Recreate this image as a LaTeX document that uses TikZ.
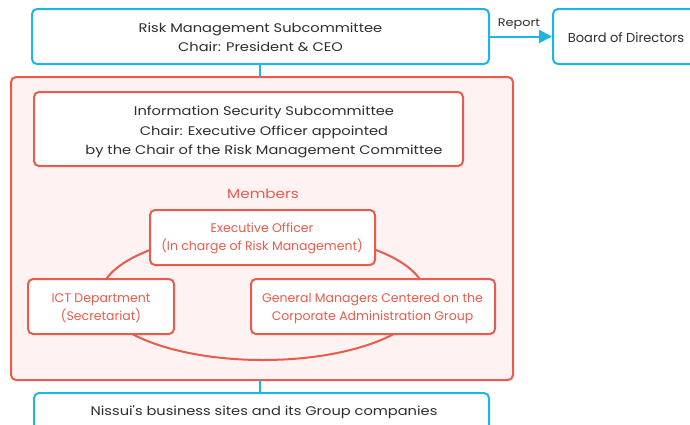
\documentclass[tikz,border=0pt]{standalone}
\usepackage{fontspec}
\setmainfont{Poppins}
\newfontfamily\widefont[FakeStretch=1.17]{Poppins}
\usetikzlibrary{arrows.meta}
\definecolor{cy}{HTML}{1DB6E3}
\definecolor{rd}{HTML}{E95B4C}
\definecolor{pk}{HTML}{FEF3F2}
\definecolor{tx}{HTML}{2E2E2E}
\begin{document}
\begin{tikzpicture}[x=1pt,y=-1pt,
  cybox/.style={draw=cy,line width=2pt,rounded corners=5pt,fill=white,inner sep=0pt},
  rdbox/.style={draw=rd,line width=2pt,rounded corners=5pt,fill=white,inner sep=0pt},
  dtext/.style={text=tx,font=\widefont\fontsize{12.5}{19}\selectfont,align=center,inner sep=0pt},
  ntext/.style={text=tx,font=\fontsize{13}{19}\selectfont,align=center,inner sep=0pt},
  rtext/.style={text=rd,font=\fontsize{12.5}{18}\selectfont,align=center,inner sep=0pt},
  cyline/.style={draw=cy,line width=2pt},
  rdline/.style={draw=rd,line width=2pt}]
\useasboundingbox (0,0) rectangle (690,424);
\clip (0,0) rectangle (690,424);
% top boxes
\node[cybox,minimum width=457pt,minimum height=55pt] (risk) at (260.5,36.5) {};
\node[dtext] (risktxt) at (260.5,37) {Risk Management Subcommittee\\Chair: President \& CEO};
\node[cybox,minimum width=146pt,minimum height=55pt] (board) at (626,36.5) {};
\node[ntext] (boardtxt) at (626,37.5) {Board of Directors};
\draw[cyline,-{Triangle[length=13pt,width=13pt]}] (risk.east) -- (board.west);
\node[dtext,font=\widefont\fontsize{11}{13}\selectfont] (report) at (519,24) {Report};
% red outer
\node[draw=rd,line width=2pt,rounded corners=5pt,fill=pk,minimum width=502pt,minimum height=303pt,inner sep=0pt] (outer) at (262,228.5) {};
\coordinate (riskb) at (260,64);
\coordinate (outt) at (260,77);
\draw[cyline] (riskb) -- (outt);
% info sec
\node[rdbox,minimum width=429pt,minimum height=74pt] (info) at (248.5,129) {};
\node[dtext] (infotxt1) at (264,112.5) {Information Security Subcommittee};
\node[dtext] (infotxt2) at (264,142) {Chair: Executive Officer appointed\\by the Chair of the Risk Management Committee};
\node[rtext,font=\widefont\fontsize{13}{15}\selectfont] (members) at (263,194) {Members};
% ellipse
\draw[rdline] (263,296) ellipse [x radius=162.5pt, y radius=64pt];
\node[rdbox,minimum width=225pt,minimum height=55pt] (exec) at (262.5,237.5) {};
\node[rtext] (exectxt) at (262,238.5) {Executive Officer\\(In charge of Risk Management)};
\node[rdbox,minimum width=146pt,minimum height=55pt] (ict) at (101,306.5) {};
\node[rtext] (icttxt) at (101,308.5) {ICT Department\\(Secretariat)};
\node[rdbox,minimum width=244pt,minimum height=55pt] (gm) at (373,306.5) {};
\node[rtext] (gmtxt) at (372.5,308.5) {General Managers Centered on the\\Corporate Administration Group};
% bottom
\node[cybox,minimum width=455pt,minimum height=60pt] (sites) at (261.5,423) {};
\node[dtext] (sitestxt) at (264,412) {Nissui's business sites and its Group companies};
\coordinate (outb) at (260,380);
\coordinate (sitest) at (260,393);
\draw[cyline] (outb) -- (sitest);
\end{tikzpicture}
\end{document}
